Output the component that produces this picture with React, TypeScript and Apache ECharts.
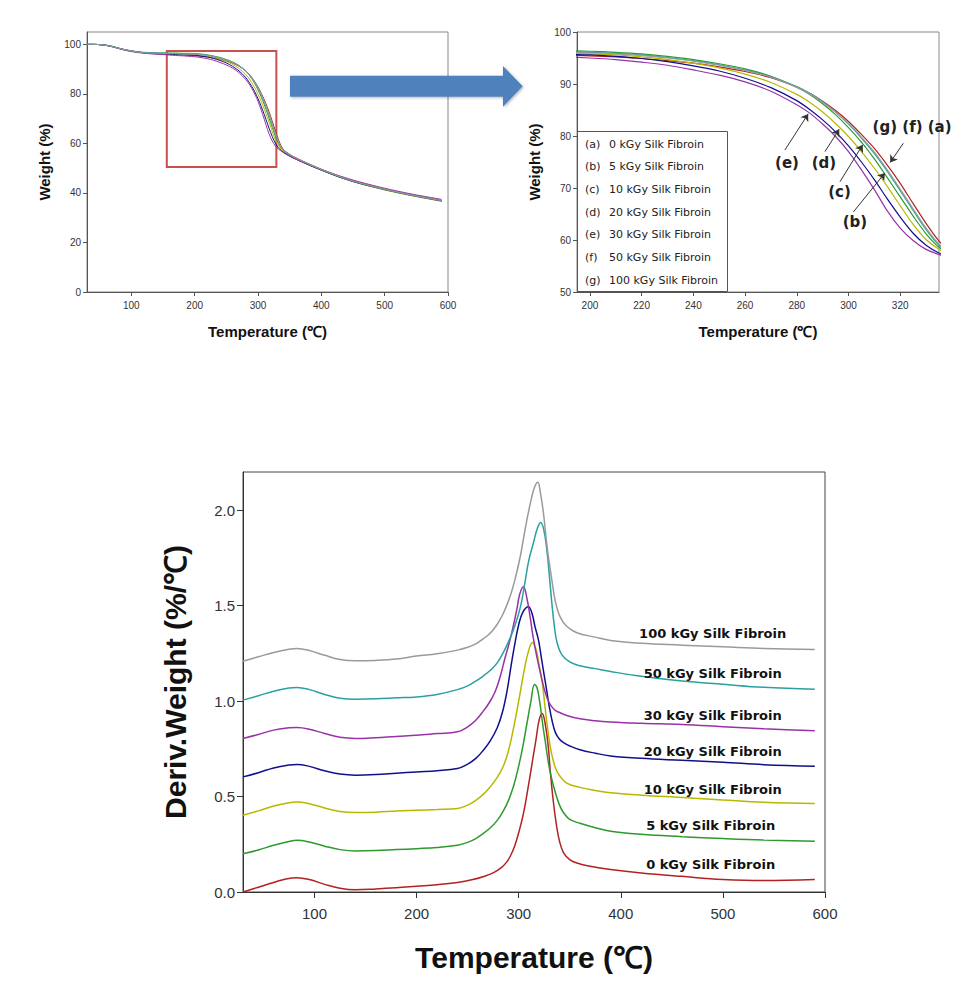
import React, { useEffect, useRef } from 'react';
import * as echarts from 'echarts';

// ---------- data ----------
const SAMPLE_NAMES = [
  '0 kGy Silk Fibroin',
  '5 kGy Silk Fibroin',
  '10 kGy Silk Fibroin',
  '20 kGy Silk Fibroin',
  '30 kGy Silk Fibroin',
  '50 kGy Silk Fibroin',
  '100 kGy Silk Fibroin',
];
const SAMPLE_LETTERS = ['(a)', '(b)', '(c)', '(d)', '(e)', '(f)', '(g)'];
const COLORS = ['#B22222', '#2E9A2E', '#B8B800', '#10108C', '#9932A8', '#2AA0A0', '#9A9A9A'];

// TGA (weight %) vs temperature
const TGA_TEMPS = [30, 40, 50, 60, 70, 80, 90, 100, 110, 120, 130, 140, 150, 160, 170, 180, 190,
  200, 210, 220, 230, 240, 250, 260, 270, 280, 285, 290, 295, 300, 305, 310, 315, 320, 325, 330, 335,
  340, 350, 360, 380, 400, 430, 460, 500, 540, 590];
const TGA_A = [100, 100, 99.9, 99.6, 99.1, 98.4, 97.8, 97.3, 96.9, 96.6, 96.4, 96.3, 96.2, 96.0, 95.9, 95.8, 95.6,
  95.4, 95.2, 94.9, 94.5, 94.0, 93.3, 92.4, 91.2, 89.4, 88.2, 86.7, 84.9, 82.8, 80.3, 77.6, 74.4, 70.9, 67.0, 63.2, 59.8,
  57.6, 55.6, 54.2, 51.8, 49.6, 46.6, 44.2, 41.6, 39.4, 37.0];
const TGA_B = [100, 100, 99.9, 99.7, 99.2, 98.5, 97.9, 97.4, 97.0, 96.8, 96.7, 96.6, 96.6, 96.5, 96.5, 96.4, 96.4,
  96.3, 96.1, 95.8, 95.3, 94.7, 93.9, 92.9, 91.5, 89.4, 88.0, 86.2, 84.1, 81.6, 78.8, 75.6, 72.0, 68.3, 64.6, 61.2, 58.6,
  57.2, 55.3, 53.9, 51.5, 49.3, 46.3, 43.9, 41.3, 39.1, 36.7];
const TGA_C = [100, 100, 99.9, 99.6, 99.1, 98.4, 97.8, 97.3, 96.9, 96.6, 96.4, 96.3, 96.2, 96.1, 96.0, 95.9, 95.9,
  95.8, 95.6, 95.2, 94.7, 94.0, 93.1, 91.9, 90.3, 88.0, 86.5, 84.6, 82.4, 79.9, 77.0, 73.8, 70.3, 66.6, 63.0, 60.1, 58.2,
  56.9, 55.1, 53.8, 51.4, 49.2, 46.2, 43.8, 41.2, 39.0, 36.6];
const TGA_D = [100, 100, 99.9, 99.6, 99.1, 98.4, 97.8, 97.3, 96.9, 96.6, 96.4, 96.2, 96.1, 96.0, 95.9, 95.8, 95.7,
  95.6, 95.3, 94.9, 94.3, 93.5, 92.5, 91.1, 89.3, 86.8, 85.1, 83.1, 80.8, 78.1, 75.0, 71.6, 67.9, 64.4, 61.3, 59.0, 57.5,
  56.5, 54.9, 53.6, 51.3, 49.2, 46.3, 43.9, 41.4, 39.2, 36.8];
const TGA_E = [100, 100, 99.9, 99.6, 99.0, 98.3, 97.6, 97.1, 96.7, 96.4, 96.2, 96.0, 95.9, 95.7, 95.5, 95.4, 95.2,
  95.0, 94.7, 94.2, 93.6, 92.7, 91.7, 90.4, 88.6, 86.0, 84.4, 82.3, 79.9, 77.0, 73.5, 69.7, 65.6, 62.3, 59.9, 58.2, 57.2,
  56.3, 54.8, 53.6, 51.5, 49.5, 46.8, 44.5, 41.9, 39.7, 37.4];
const TGA_F = [100, 100, 99.9, 99.7, 99.2, 98.5, 97.9, 97.4, 97.0, 96.7, 96.6, 96.5, 96.4, 96.4, 96.3, 96.2, 96.2,
  96.1, 95.9, 95.6, 95.1, 94.5, 93.7, 92.7, 91.4, 89.5, 88.2, 86.6, 84.6, 82.3, 79.6, 76.6, 73.2, 69.5, 65.7, 62.0, 59.0,
  57.3, 55.4, 54.0, 51.6, 49.4, 46.4, 44.0, 41.4, 39.2, 36.8];
const TGA_G = [100, 100, 99.9, 99.6, 99.1, 98.4, 97.8, 97.3, 96.9, 96.6, 96.5, 96.4, 96.3, 96.3, 96.2, 96.1, 96.1,
  96.0, 95.8, 95.5, 95.0, 94.4, 93.6, 92.6, 91.3, 89.4, 88.1, 86.5, 84.6, 82.4, 79.8, 76.9, 73.5, 69.8, 66.0, 62.3, 59.2,
  57.3, 55.5, 54.1, 51.7, 49.5, 46.5, 44.1, 41.5, 39.3, 36.9];
const TGA_SERIES = [TGA_A, TGA_B, TGA_C, TGA_D, TGA_E, TGA_F, TGA_G];

// DTG (deriv. weight %/°C, offset curves) [temperature, value]
const DTG_0 = [[30, 0.0], [45, 0.025], [60, 0.05], [72, 0.068], [83, 0.075], [95, 0.065], [110, 0.04], [125, 0.02],
  [140, 0.012], [160, 0.016], [180, 0.022], [200, 0.03], [220, 0.038], [240, 0.05], [255, 0.065], [265, 0.08],
  [275, 0.1], [283, 0.128], [288, 0.155], [292, 0.19], [296, 0.24], [300, 0.31], [305, 0.42], [309, 0.54], [313, 0.67],
  [317, 0.8], [320, 0.9], [323, 0.935], [326, 0.88], [329, 0.76], [331, 0.63], [334, 0.47], [337, 0.35], [340, 0.265],
  [344, 0.205], [350, 0.17], [357, 0.152], [370, 0.135], [390, 0.118], [420, 0.1], [460, 0.082], [500, 0.066],
  [540, 0.06], [590, 0.065]];
const DTG_5 = [[30, 0.2], [45, 0.22], [60, 0.245], [75, 0.265], [83, 0.271], [95, 0.262], [110, 0.24], [125, 0.222],
  [140, 0.215], [160, 0.217], [180, 0.222], [200, 0.227], [220, 0.233], [240, 0.245], [250, 0.26], [258, 0.28],
  [265, 0.305], [272, 0.335], [279, 0.375], [285, 0.425], [290, 0.48], [295, 0.555], [300, 0.66], [304, 0.76],
  [308, 0.88], [312, 1.0], [315.5, 1.087], [318, 1.07], [321, 0.98], [324, 0.86], [326, 0.79], [329, 0.68], [332, 0.6],
  [336, 0.52], [340, 0.455], [344, 0.415], [350, 0.38], [360, 0.36], [375, 0.337], [390, 0.318], [420, 0.302],
  [460, 0.29], [500, 0.28], [540, 0.272], [590, 0.266]];
const DTG_10 = [[30, 0.402], [45, 0.425], [60, 0.45], [75, 0.468], [83, 0.472], [95, 0.462], [110, 0.44], [125, 0.422],
  [140, 0.416], [160, 0.418], [180, 0.424], [200, 0.428], [220, 0.432], [240, 0.437], [250, 0.455], [258, 0.48],
  [265, 0.51], [272, 0.55], [279, 0.6], [285, 0.66], [290, 0.74], [295, 0.86], [300, 1.0], [305, 1.15], [309, 1.25],
  [313.5, 1.307], [317, 1.27], [320, 1.19], [323, 1.1], [326, 0.96], [329, 0.83], [332, 0.73], [336, 0.65], [340, 0.61],
  [347, 0.57], [360, 0.548], [375, 0.532], [390, 0.52], [420, 0.507], [460, 0.495], [500, 0.482], [540, 0.47], [590, 0.463]];
const DTG_20 = [[30, 0.603], [45, 0.625], [60, 0.65], [75, 0.665], [83, 0.668], [95, 0.658], [110, 0.635], [125, 0.618],
  [140, 0.612], [160, 0.615], [180, 0.622], [200, 0.629], [220, 0.635], [240, 0.647], [250, 0.67], [258, 0.7],
  [265, 0.74], [272, 0.79], [279, 0.86], [284, 0.94], [288.5, 1.05], [293, 1.2], [296.6, 1.31], [300, 1.4],
  [304, 1.465], [309.6, 1.494], [313, 1.46], [316, 1.39], [319.4, 1.319], [323, 1.2], [327, 1.07], [330, 0.97],
  [333, 0.89], [336, 0.835], [340, 0.8], [344, 0.782], [350, 0.765], [360, 0.745], [375, 0.727], [390, 0.713],
  [420, 0.7], [460, 0.69], [500, 0.68], [540, 0.667], [590, 0.659]];
const DTG_30 = [[30, 0.804], [45, 0.825], [60, 0.848], [75, 0.86], [83, 0.862], [95, 0.853], [110, 0.83], [125, 0.81],
  [140, 0.804], [160, 0.808], [180, 0.815], [200, 0.821], [220, 0.83], [240, 0.839], [250, 0.865], [258, 0.9],
  [265, 0.945], [271, 0.99], [277, 1.05], [282, 1.13], [286.8, 1.23], [290, 1.29], [293.3, 1.36], [298.2, 1.48],
  [301, 1.56], [304.7, 1.599], [308, 1.54], [311.2, 1.441], [314, 1.34], [317.8, 1.232], [322, 1.13], [326, 1.045],
  [330, 0.99], [335, 0.955], [340, 0.94], [347, 0.925], [360, 0.907], [375, 0.897], [390, 0.891], [420, 0.884],
  [460, 0.877], [500, 0.866], [540, 0.855], [590, 0.844]];
const DTG_50 = [[30, 1.005], [45, 1.028], [60, 1.052], [75, 1.068], [83, 1.071], [95, 1.06], [110, 1.035], [125, 1.015],
  [140, 1.01], [160, 1.012], [180, 1.017], [200, 1.022], [220, 1.035], [240, 1.06], [250, 1.08], [258, 1.105],
  [265, 1.13], [272, 1.16], [279, 1.2], [285, 1.255], [290, 1.31], [296.6, 1.4], [302, 1.5], [306.4, 1.63], [310, 1.74],
  [314.5, 1.83], [318, 1.9], [321.4, 1.936], [324.5, 1.9], [327.6, 1.791], [330, 1.66], [332.5, 1.512], [335, 1.39],
  [337.4, 1.31], [342, 1.245], [350, 1.205], [360, 1.185], [375, 1.17], [390, 1.155], [420, 1.13], [460, 1.105],
  [500, 1.088], [540, 1.072], [590, 1.062]];
const DTG_100 = [[30, 1.209], [45, 1.232], [60, 1.255], [75, 1.272], [83, 1.276], [95, 1.265], [110, 1.24], [125, 1.218],
  [140, 1.211], [160, 1.213], [180, 1.22], [200, 1.236], [220, 1.248], [240, 1.267], [250, 1.282], [258, 1.3],
  [265, 1.325], [272, 1.355], [278.7, 1.4], [285, 1.46], [291.7, 1.55], [297, 1.65], [301.5, 1.756], [305, 1.86],
  [308, 1.948], [312, 2.05], [315.5, 2.12], [318.8, 2.146], [321, 2.1], [324.3, 1.983], [328, 1.8], [332.5, 1.634],
  [336, 1.52], [340.6, 1.441], [347, 1.392], [357, 1.358], [375, 1.335], [390, 1.318], [420, 1.303], [460, 1.293],
  [500, 1.284], [540, 1.275], [590, 1.27]];
const DTG_SERIES = [DTG_0, DTG_5, DTG_10, DTG_20, DTG_30, DTG_50, DTG_100];
const DTG_LABEL_AT = [[488, 0.144], [488, 0.35], [490, 0.538], [490, 0.734], [490, 0.922], [490, 1.145], [490, 1.354]];

// ticks
const X_TICKS_FULL = [100, 200, 300, 400, 500, 600];
const Y_TICKS_TGA = [0, 20, 40, 60, 80, 100];
const X_TICKS_ZOOM = [200, 220, 240, 260, 280, 300, 320];
const Y_TICKS_ZOOM = [50, 60, 70, 80, 90, 100];
const Y_TICKS_DTG = [0, 0.5, 1.0, 1.5, 2.0];

// annotations
const ZOOM_BOX = [[156, 97.3], [329, 50.5]];
const CURVE_TAGS = [
  { text: '(e)', at: [276.2, 74.9] },
  { text: '(d)', at: [290.5, 74.9] },
  { text: '(c)', at: [296.5, 69.3] },
  { text: '(b)', at: [302.5, 63.5] },
  { text: '(g) (f) (a)', at: [324.6, 81.7] },
];
const TAG_ARROWS = [
  [[275.4, 77.3], [284.4, 84.25]],
  [[290.9, 77.0], [296.4, 81.3]],
  [[296.7, 71.2], [305.5, 78.3]],
  [[301.9, 65.4], [314.1, 72.9]],
  [[321.2, 78.6], [316.1, 74.9]],
];

// ---------- helpers ----------
const TICK_FONT = 'Liberation Sans, Arial, sans-serif';

function valAxis(gridIndex: number, min: number, max: number, ticks: number[], fontSize: number,
  name: string, nameGap: number, nameFontSize: number, margin: number, tickLen: number, lineColor: string,
  fmt?: (v: number) => string) {
  return {
    type: 'value',
    gridIndex,
    min,
    max,
    name,
    nameLocation: 'middle',
    nameGap,
    nameTextStyle: { fontSize: nameFontSize, fontWeight: 'bold', color: '#111', fontFamily: TICK_FONT },
    axisLine: { show: true, onZero: false, lineStyle: { color: lineColor, width: 1 } },
    axisTick: { show: true, inside: false, length: tickLen, customValues: ticks, lineStyle: { color: lineColor } },
    axisLabel: {
      show: true,
      customValues: ticks,
      fontSize,
      color: '#333',
      fontFamily: TICK_FONT,
      margin,
      formatter: fmt ? (v: number) => fmt(v) : (v: number) => String(v),
    },
    splitLine: { show: false },
  };
}

export default function App() {
  const ref = useRef<HTMLDivElement>(null);

  useEffect(() => {
    if (!ref.current) return;
    const chart = echarts.init(ref.current, null, { renderer: 'svg' });

    const series: any[] = [];
    // grid 0: full TGA
    TGA_SERIES.forEach((vals, i) => {
      const s: any = {
        type: 'line',
        name: SAMPLE_NAMES[i],
        xAxisIndex: 0,
        yAxisIndex: 0,
        data: TGA_TEMPS.map((t, k) => [t, vals[k]]),
        showSymbol: false,
        smooth: 0.3,
        lineStyle: { color: COLORS[i], width: 1 },
        z: 2,
      };
      if (i === 0) {
        s.markArea = {
          silent: true,
          itemStyle: { color: 'rgba(0,0,0,0)', borderColor: '#C8504D', borderWidth: 2 },
          data: [[{ coord: ZOOM_BOX[0] }, { coord: ZOOM_BOX[1] }]],
        };
      }
      series.push(s);
    });
    // grid 1: zoomed TGA
    TGA_SERIES.forEach((vals, i) => {
      const s: any = {
        type: 'line',
        name: SAMPLE_NAMES[i] + ' zoom',
        xAxisIndex: 1,
        yAxisIndex: 1,
        data: TGA_TEMPS.map((t, k) => [t, vals[k]]),
        showSymbol: false,
        smooth: 0.3,
        clip: true,
        lineStyle: { color: COLORS[i], width: 1.2 },
        z: 2,
      };
      if (i === 0) {
        s.markLine = {
          silent: true,
          symbol: ['none', 'arrow'],
          symbolSize: 7,
          label: { show: false },
          lineStyle: { color: '#333', width: 1, type: 'solid' },
          data: TAG_ARROWS.map(([a, b]) => [{ coord: a }, { coord: b }]),
        };
        s.markPoint = {
          silent: true,
          symbol: 'circle',
          symbolSize: 0,
          label: {
            show: true,
            position: 'inside',
            formatter: (p: any) => p.name,
            fontSize: 15,
            fontWeight: 'bold',
            color: '#222',
            fontFamily: 'DejaVu Sans, Verdana, sans-serif',
          },
          data: CURVE_TAGS.map((t) => ({ name: t.text, coord: t.at })),
        };
      }
      series.push(s);
    });
    // grid 2: DTG
    DTG_SERIES.forEach((pts, i) => {
      series.push({
        type: 'line',
        name: SAMPLE_NAMES[i] + ' dtg',
        xAxisIndex: 2,
        yAxisIndex: 2,
        data: pts,
        showSymbol: false,
        smooth: 0.4,
        lineStyle: { color: COLORS[i], width: 1.5 },
        markPoint: {
          silent: true,
          symbol: 'circle',
          symbolSize: 0,
          label: {
            show: true,
            position: 'inside',
            formatter: (p: any) => p.name,
            fontSize: 13,
            fontWeight: 'bold',
            color: '#111',
            fontFamily: 'DejaVu Sans, Verdana, sans-serif',
          },
          data: [{ name: SAMPLE_NAMES[i], coord: DTG_LABEL_AT[i] }],
        },
      });
    });

    const legendRows = SAMPLE_NAMES.map((n, i) => i);
    const legendY0 = 144;
    const legendStep = 22.7;

    chart.setOption({
      animation: false,
      backgroundColor: '#fff',
      grid: [
        { left: 87, top: 32, width: 361, height: 260, show: true, borderColor: '#888', borderWidth: 1, backgroundColor: 'transparent' },
        { left: 577, top: 32, width: 362, height: 260, show: true, borderColor: '#888', borderWidth: 1, backgroundColor: 'transparent' },
        { left: 243, top: 472, width: 582, height: 420, show: true, borderColor: '#444', borderWidth: 1, backgroundColor: 'transparent' },
      ],
      xAxis: [
        valAxis(0, 30, 600, X_TICKS_FULL, 10, 'Temperature (℃)', 32, 15, 8, 4, '#555'),
        valAxis(1, 195, 335, X_TICKS_ZOOM, 10, 'Temperature (℃)', 32, 15, 8, 4, '#555'),
        valAxis(2, 30, 600, X_TICKS_FULL, 15, 'Temperature (℃)', 50, 30, 14, 6, '#333'),
      ],
      yAxis: [
        valAxis(0, 0, 105, Y_TICKS_TGA, 10, 'Weight (%)', 35, 15, 6, 4, '#555'),
        valAxis(1, 50, 100, Y_TICKS_ZOOM, 10, 'Weight (%)', 35, 15, 6, 4, '#555'),
        valAxis(2, 0, 2.2, Y_TICKS_DTG, 15, 'Deriv.Weight (%/℃)', 53, 30, 8, 6, '#333', (v) => v.toFixed(1)),
      ],
      series,
      graphic: [
        {
          type: 'polygon',
          z: 100,
          shape: {
            points: [[290, 75.7], [503, 75.7], [503, 66], [522.7, 86.3], [503, 106.7], [503, 96.7], [290, 96.7]],
          },
          style: { fill: '#4F81BD', shadowBlur: 3, shadowColor: 'rgba(0,0,0,0.3)', shadowOffsetX: 1, shadowOffsetY: 1 },
        },
        {
          type: 'group',
          z: 100,
          children: [
            {
              type: 'rect',
              shape: { x: 577.5, y: 131.5, width: 150, height: 160 },
              style: { fill: '#fff', stroke: '#555', lineWidth: 1 },
            },
            ...legendRows.map((i) => ({
              type: 'text',
              x: 585,
              y: legendY0 + i * legendStep,
              style: {
                text: SAMPLE_LETTERS[i],
                fontSize: 11,
                fontFamily: 'DejaVu Sans, Verdana, sans-serif',
                fill: '#222',
                verticalAlign: 'middle',
              },
            })),
            ...legendRows.map((i) => ({
              type: 'text',
              x: 609,
              y: legendY0 + i * legendStep,
              style: {
                text: SAMPLE_NAMES[i],
                fontSize: 11,
                fontFamily: 'DejaVu Sans, Verdana, sans-serif',
                fill: '#222',
                verticalAlign: 'middle',
              },
            })),
          ],
        },
      ],
    });

    return () => chart.dispose();
  }, []);

  return (
    <div
      ref={ref}
      style={{ position: 'absolute', left: 0, top: 0, width: 971, height: 998, background: '#fff' }}
    />
  );
}
